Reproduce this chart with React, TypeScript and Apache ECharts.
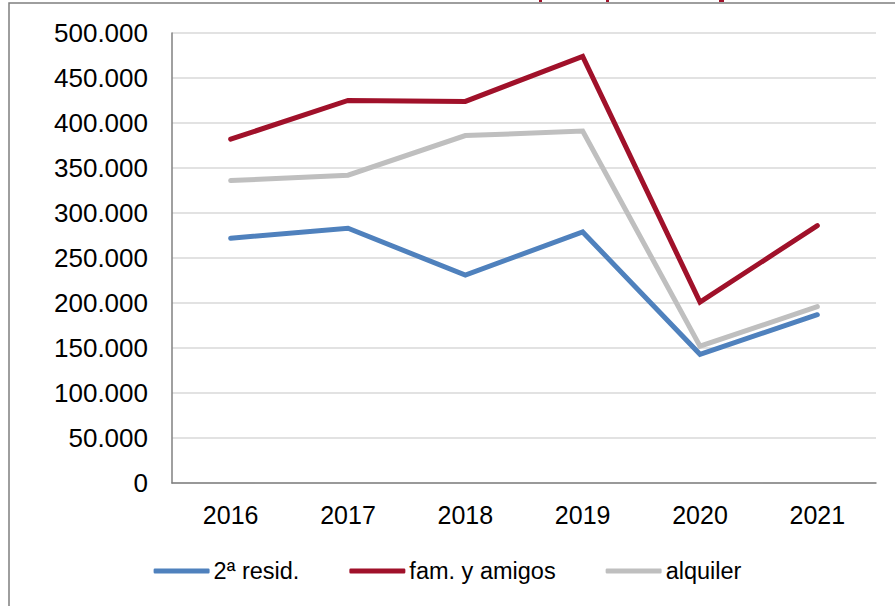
import React, { useEffect, useRef } from "react";
import * as echarts from "echarts";

const years = ["2016", "2017", "2018", "2019", "2020", "2021"];
const segundaResid = [272000, 283000, 231000, 279000, 143000, 187000];
const famAmigos = [382000, 425000, 424000, 474000, 201000, 286000];
const alquiler = [336000, 342000, 386000, 391000, 152000, 196000];
const seriesNames = ["2ª resid.", "fam. y amigos", "alquiler"];
const colors = ["#4F81BD", "#A0112A", "#BFBFBF"];

const fmt = (v: number) => {
  if (v === 0) return "0";
  const s = Math.round(v).toString();
  return s.replace(/\B(?=(\d{3})+(?!\d))/g, ".");
};

export default function App() {
  const ref = useRef<HTMLDivElement>(null);
  useEffect(() => {
    if (!ref.current) return;
    const chart = echarts.init(ref.current, null, { renderer: "svg" });
    const font = "'Liberation Sans', Arial, sans-serif";
    const mk = (name: string, data: number[], color: string) => ({
      name,
      type: "line",
      data,
      symbol: "none",
      showSymbol: false,
      itemStyle: { color },
      lineStyle: { color, width: 5, cap: "round", join: "miter" },
      z: 3,
    });
    chart.setOption({
      animation: false,
      backgroundColor: "#fff",
      textStyle: { fontFamily: font },
      grid: { left: 172, right: 19, top: 33, bottom: 123, containLabel: false },
      xAxis: {
        type: "category",
        data: years,
        boundaryGap: true,
        axisLine: { show: true, lineStyle: { color: "#808080", width: 1.5 } },
        axisTick: { show: false },
        axisLabel: { color: "#000", fontSize: 25, margin: 19, fontFamily: font },
      },
      yAxis: {
        type: "value",
        min: 0,
        max: 500000,
        interval: 50000,
        axisLine: { show: true, lineStyle: { color: "#808080", width: 1.5 } },
        axisTick: { show: false },
        splitLine: { show: true, lineStyle: { color: "#D9D9D9", width: 1.5 } },
        axisLabel: { color: "#000", fontSize: 26, margin: 24, fontFamily: font, formatter: fmt },
      },
      legend: {
        data: seriesNames,
        left: "center",
        top: 554,
        icon: "roundRect",
        itemWidth: 56,
        itemHeight: 5,
        itemGap: 50,
        textStyle: { color: "#000", fontSize: 23.5, fontFamily: font, padding: [0, 0, 0, -1] },
      },
      series: [
        mk(seriesNames[0], segundaResid, colors[0]),
        mk(seriesNames[1], famAmigos, colors[1]),
        mk(seriesNames[2], alquiler, colors[2]),
      ],
      graphic: [
        {
          type: "rect",
          shape: { x: 9, y: 3, width: 1000, height: 1000 },
          style: { fill: "none", stroke: "#7F7F7F", lineWidth: 1.5 },
          silent: true,
          z: 10,
        },
        { type: "rect", shape: { x: 539, y: 0, width: 3, height: 2 }, style: { fill: "#A0112A" }, silent: true },
        { type: "rect", shape: { x: 606, y: 0, width: 3, height: 2 }, style: { fill: "#A0112A" }, silent: true },
        { type: "rect", shape: { x: 719, y: 0, width: 5, height: 2 }, style: { fill: "#A0112A" }, silent: true },
      ],
    });
    return () => chart.dispose();
  }, []);
  return (
    <div
      ref={ref}
      style={{ position: "fixed", left: 0, top: 0, width: 895, height: 606 }}
    />
  );
}
